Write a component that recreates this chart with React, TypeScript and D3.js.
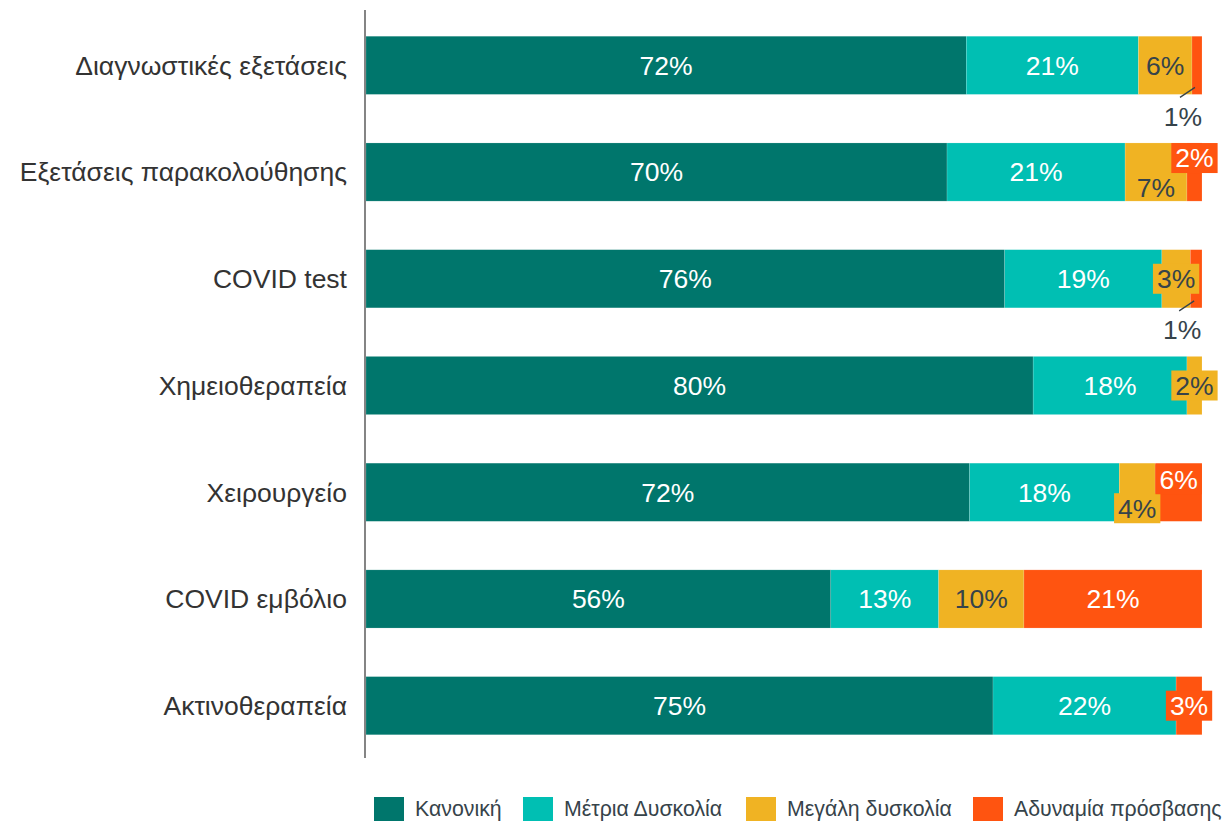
import * as d3 from "d3";

const categories = [
  "Διαγνωστικές εξετάσεις",
  "Εξετάσεις παρακολούθησης",
  "COVID test",
  "Χημειοθεραπεία",
  "Χειρουργείο",
  "COVID εμβόλιο",
  "Ακτινοθεραπεία",
];

const seriesNames = ["Κανονική", "Μέτρια Δυσκολία", "Μεγάλη δυσκολία", "Αδυναμία πρόσβασης"];
const seriesColors = ["#00766c", "#00bfb3", "#f0b323", "#ff5410"];
const labelColors = ["#ffffff", "#ffffff", "#36434a", "#ffffff"];

// share of answers per category (percent)
const normal = [71.8, 69.5, 76.4, 79.8, 72.2, 55.6, 75.0];
const moderate = [20.6, 21.3, 18.8, 18.4, 17.9, 12.9, 21.9];
const major = [6.4, 7.4, 3.4, 1.8, 4.3, 10.2, 0];
const noAccess = [1.2, 1.8, 1.4, 0, 5.6, 21.3, 3.1];

// label placement tweaks for crowded segments: [row, series, dy, box, outside]
const labelTweaks: [number, number, number, boolean, boolean][] = [
  [0, 3, 0, false, true],
  [1, 2, 16, false, false],
  [1, 3, -14, true, false],
  [2, 2, 0, true, false],
  [2, 3, 0, false, true],
  [3, 2, 0, true, false],
  [4, 2, 16, true, false],
  [4, 3, -13, true, false],
  [6, 3, 0, true, false],
];

const W = 1222;
const H = 826;
const margin = { top: 12, right: 20, bottom: 67, left: 366 };
const font = "'Liberation Sans', Arial, sans-serif";
const fs = 26.5;

export default function App() {
  const values = [normal, moderate, major, noAccess];
  const rows = categories.map((c, i) => {
    const r: any = { name: c };
    seriesNames.forEach((s, j) => (r[s] = values[j][i]));
    return r;
  });
  const stacked = d3.stack<any>().keys(seriesNames)(rows);

  const x = d3.scaleLinear().domain([0, 100]).range([margin.left, W - margin.right]);
  const y = d3
    .scaleBand()
    .domain(categories)
    .range([margin.top, H - margin.bottom])
    .paddingInner(0.455)
    .paddingOuter(0.227);

  const legendX = [374, 523, 746, 973];

  return (
    <svg width={W} height={H} style={{ position: "absolute", left: 0, top: 0, fontFamily: font }}>
      <rect width={W} height={H} fill="#fff" />
      {stacked.map((layer, j) => (
        <g key={j}>
          {layer.map((d, i) => (
            <rect
              key={i}
              x={x(d[0])}
              y={y(categories[i])}
              width={Math.max(0, x(d[1]) - x(d[0]))}
              height={y.bandwidth()}
              fill={seriesColors[j]}
              stroke="#fff"
              strokeOpacity={0.3}
              strokeWidth={0.5}
            />
          ))}
        </g>
      ))}
      <line x1={365} x2={365} y1={10} y2={758} stroke="#333" strokeWidth={1.2} />
      {categories.map((c) => (
        <text
          key={c}
          x={347}
          y={(y(c) ?? 0) + y.bandwidth() / 2}
          dy="0.35em"
          textAnchor="end"
          fontSize={fs}
          fill="#333"
        >
          {c}
        </text>
      ))}
      {stacked.map((layer, j) =>
        layer.map((d, i) => {
          const v = values[j][i];
          if (!v) return null;
          const tw = labelTweaks.find((t) => t[0] === i && t[1] === j);
          const label = `${Math.round(v)}%`;
          const cx = (x(d[0]) + x(d[1])) / 2;
          const cy = (y(categories[i]) ?? 0) + y.bandwidth() / 2 + (tw ? tw[2] : 0);
          if (tw && tw[4]) {
            const bottom = (y(categories[i]) ?? 0) + y.bandwidth();
            return (
              <g key={`${i}-${j}`}>
                <line x1={cx - 2} y1={bottom - 7} x2={cx - 17} y2={bottom + 3} stroke="#36434a" strokeWidth={1.3} />
                <text x={cx - 14} y={bottom + 22} dy="0.35em" textAnchor="middle" fontSize={fs} fill="#36434a">
                  {label}
                </text>
              </g>
            );
          }
          const bw = ((label.length - 1) * 0.556 + 0.889) * fs + 8;
          return (
            <g key={`${i}-${j}`}>
              {tw && tw[3] && <rect x={cx - bw / 2} y={cy - 15} width={bw} height={30} fill={seriesColors[j]} />}
              <text x={cx} y={cy} dy="0.35em" textAnchor="middle" fontSize={fs} fill={labelColors[j]}>
                {label}
              </text>
            </g>
          );
        })
      )}
      {seriesNames.map((s, j) => (
        <g key={s} transform={`translate(${legendX[j]},797)`}>
          <rect width={30} height={24} fill={seriesColors[j]} />
          <text x={41} y={12} dy="0.35em" fontSize={21.3} fill="#36434a">
            {s}
          </text>
        </g>
      ))}
    </svg>
  );
}
